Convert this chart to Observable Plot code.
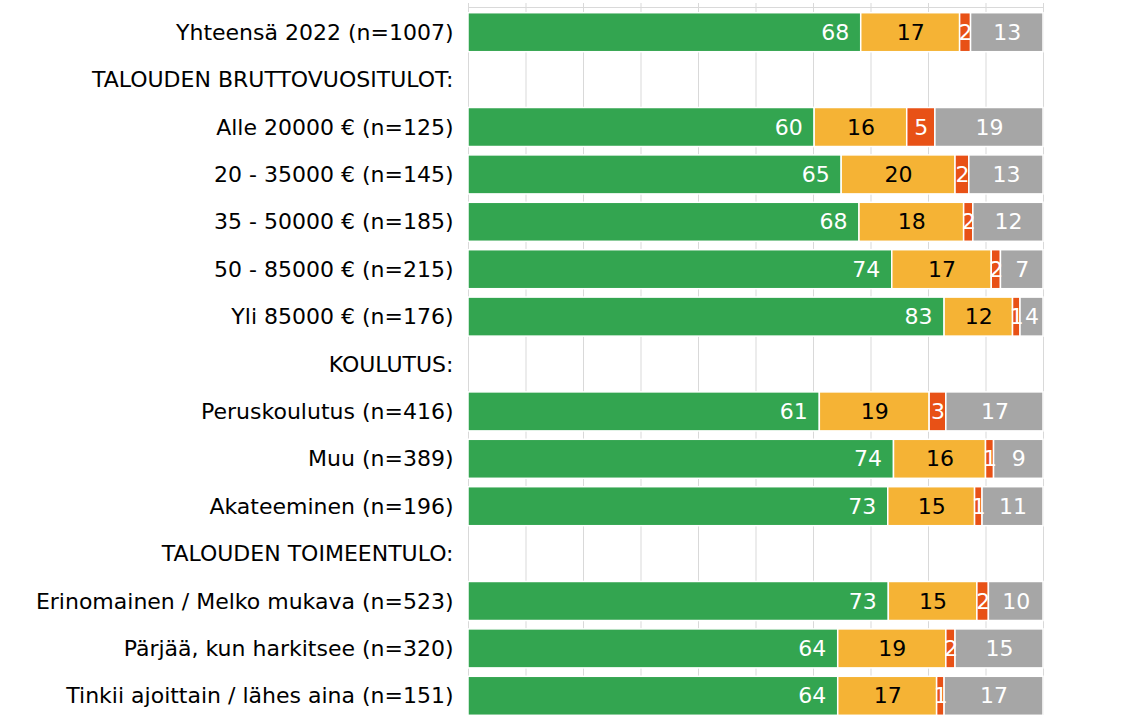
<!DOCTYPE html>
<html><head><meta charset="utf-8">
<script src="https://cdn.jsdelivr.net/npm/d3@7"></script>
<script src="https://cdn.jsdelivr.net/npm/@observablehq/plot@0.6"></script>
<style>body{margin:0;background:#fff}</style>
</head><body><div id="chart"></div>
<script>
const categories = [
  "Yhteensä 2022 (n=1007)",
  "TALOUDEN BRUTTOVUOSITULOT:",
  "Alle 20000 € (n=125)",
  "20 - 35000 € (n=145)",
  "35 - 50000 € (n=185)",
  "50 - 85000 € (n=215)",
  "Yli 85000 € (n=176)",
  "KOULUTUS:",
  "Peruskoulutus (n=416)",
  "Muu (n=389)",
  "Akateeminen (n=196)",
  "TALOUDEN TOIMEENTULO:",
  "Erinomainen / Melko mukava (n=523)",
  "Pärjää, kun harkitsee (n=320)",
  "Tinkii ajoittain / lähes aina (n=151)"
];
const seriesNames = ["s1", "s2", "s3", "s4"];
const seriesColors = ["#33a550", "#f5b335", "#e85116", "#a6a6a6"];
const labelColors = ["white", "black", "white", "white"];
const s1 = [68.3, null, 60.2, 64.9, 68.0, 73.7, 82.8, null, 61.1, 74.0, 73.0, null, 73.1, 64.3, 64.3];
const s2 = [17.2, null, 16.1, 19.8, 18.2, 17.3, 11.9, null, 19.1, 16.0, 15.1, null, 15.4, 18.8, 17.2];
const s3 = [1.9, null, 4.9, 2.4, 1.6, 1.6, 1.3, null, 2.9, 1.4, 1.3, null, 2.0, 1.6, 1.3];
const s4 = [12.6, null, 18.8, 12.9, 12.2, 7.4, 4.0, null, 16.9, 8.6, 10.6, null, 9.5, 15.3, 17.2];
const xTicks = [0, 10, 20, 30, 40, 50, 60, 70, 80, 90, 100];

const seriesValues = [s1, s2, s3, s4];
const data = [];
categories.forEach((c, i) => {
  seriesValues.forEach((arr, j) => {
    if (arr[i] != null) data.push({category: c, series: seriesNames[j], value: arr[i], labelColor: labelColors[j]});
  });
});
const firstData = data.filter(d => d.series === seriesNames[0]);

const chart = Plot.plot({
  width: 1122,
  height: 715,
  marginLeft: 468,
  marginRight: 79,
  marginTop: 7,
  marginBottom: 0,
  style: {fontFamily: "DejaVu Sans, Verdana, sans-serif", fontSize: "22px", color: "black", background: "white"},
  x: {domain: [0, 100], axis: null},
  y: {domain: categories, range: [12.7, 715.3], paddingInner: 0.177, paddingOuter: 0, round: false, axis: null},
  color: {domain: seriesNames, range: seriesColors},
  marks: [
    Plot.gridX(xTicks, {stroke: "#d9d9d9", strokeOpacity: 1, strokeWidth: 1}),
    Plot.axisX(xTicks, {anchor: "top", tickSize: 5, tickFormat: () => "", label: null, stroke: "#d9d9d9", strokeOpacity: 1}),
    Plot.frame({anchor: "top", stroke: "#d9d9d9"}),
    Plot.barX(data, Plot.stackX({x: "value", y: "category", fill: "series", order: seriesNames, stroke: "white", strokeWidth: 1.5})),
    Plot.text(firstData, {x: "value", y: "category", text: d => Math.round(d.value), fill: "labelColor", textAnchor: "end", dx: -12, fontSize: 22}),
    Plot.text(data, Plot.stackX({x: "value", y: "category", z: "series", order: seriesNames, text: d => d.series === seriesNames[0] ? null : String(Math.round(d.value)), fill: "labelColor", fontSize: 22})),
    Plot.axisY({anchor: "left", tickSize: 0, tickPadding: 15, fontSize: 22, label: null, fill: "black"})
  ]
});
document.getElementById("chart").append(chart);
</script>
</body></html>
